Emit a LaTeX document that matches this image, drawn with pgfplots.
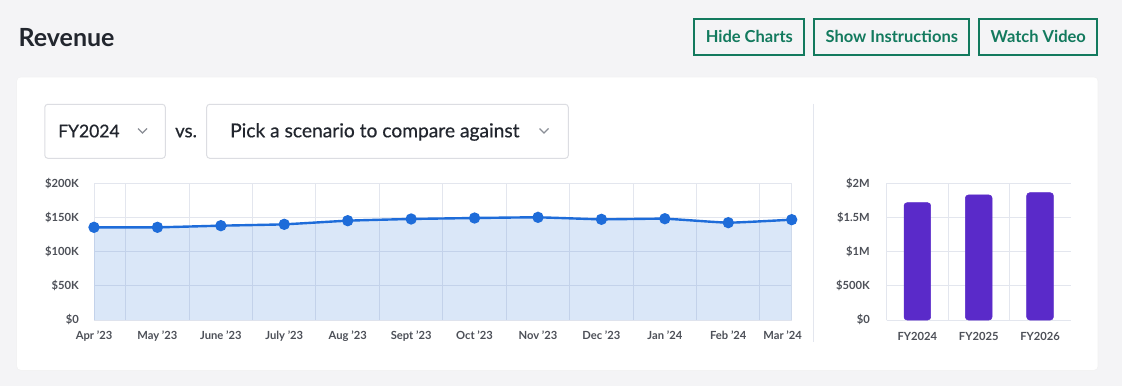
\documentclass[border=0pt]{standalone}
\usepackage{fontspec}
\setmainfont{Lato}
\newfontfamily\latomed[FakeBold=0.5]{Lato}
\usepackage{pgfplots}
\pgfplotsset{compat=1.18}
\definecolor{pagebg}{HTML}{F4F4F6}
\definecolor{btngreen}{HTML}{137A5E}
\definecolor{txtdark}{HTML}{22262E}
\definecolor{ticktxt}{HTML}{4D5058}
\definecolor{gridc}{HTML}{E3E6EE}
\definecolor{boxc}{HTML}{DCDDE2}
\definecolor{chev}{HTML}{8A8E96}
\definecolor{lineblue}{HTML}{1E6CD9}
\definecolor{barpurple}{HTML}{5A2AC9}

\begin{document}
\begin{tikzpicture}
\begin{scope}[x=1pt,y=1pt]
\useasboundingbox (0,0) rectangle (1122,386);
\fill[pagebg] (0,0) rectangle (1122,386);
% card
\fill[black!5, rounded corners=5pt] (16.3,15.2) rectangle (1098.4,309.2);
\fill[white, rounded corners=4pt] (17,16) rectangle (1097.7,308.7);
% title
\node[anchor=base west, inner sep=0pt, text=txtdark, font=\fontsize{25}{28}\selectfont\bfseries] at (18.4,339.3) {Revenue};
% buttons
\foreach \xa/\xb/\lab in {694.3/804.3/Hide Charts, 814.3/969.3/Show Instructions, 979.3/1097.3/Watch Video}{
  \draw[btngreen, line width=2pt] (\xa,331) rectangle (\xb,366.7);
  \node[anchor=base, inner sep=0pt, text=btngreen, font=\fontsize{16.5}{19}\selectfont\bfseries] at ({(\xa+\xb)/2},343) {\lab};
}
% dropdowns
\draw[boxc, line width=1pt, rounded corners=3pt] (44.8,227.7) rectangle (165.3,281.7);
\node[anchor=base west, inner sep=0pt, text=txtdark, font=\fontsize{17.5}{20}\latomed] at (58,248.7) {FY2024};
\draw[chev, line width=1.4pt] (138,257.5) -- (142.5,253) -- (147,257.5);
\node[anchor=base west, inner sep=0pt, text=txtdark, font=\fontsize{18.5}{20}\latomed] at (175,248.7) {vs.};
\draw[boxc, line width=1pt, rounded corners=3pt] (206.7,227.7) rectangle (568.3,281.7);
\node[anchor=base west, inner sep=0pt, text=txtdark, font=\fontsize{19.2}{20}\latomed] at (230,248.7) {Pick a scenario to compare against};
\draw[chev, line width=1.4pt] (539.5,257.5) -- (544,253) -- (548.5,257.5);
% separator
\draw[gridc, line width=1pt] (813.3,282) -- (813.3,43.7);
\end{scope}

% ---- monthly revenue line chart (values in $K)
\begin{axis}[
  at={(94pt,66pt)}, anchor=south west,
  scale only axis, width=697.7pt, height=136.7pt,
  xmin=0, xmax=11, ymin=0, ymax=200,
  enlargelimits=false,
  xtick={0,...,11},
  xticklabels={Apr '23,May '23,June '23,July '23,Aug '23,Sept '23,Oct '23,Nov '23,Dec '23,Jan '24,Feb '24,\kern-18pt Mar '24},
  minor xtick={0.5,1.5,...,10.5},
  xminorgrids=true, xmajorgrids=false,
  ytick={0,50,100,150,200},
  yticklabels={\$0,\$50K,\$100K,\$150K,\$200K},
  ymajorgrids=true,
  major tick length=0pt, minor tick length=0pt,
  grid style={draw=gridc, line width=1pt},
  minor grid style={draw=gridc, line width=1pt},
  axis line style={draw=gridc, line width=1pt},
  tick label style={text=ticktxt, font=\fontsize{11.2}{13}\selectfont\bfseries, inner sep=0pt},
  yticklabel style={anchor=east, xshift=-15pt},
  xticklabel style={anchor=base, yshift=-19.5pt},
  axis on top=false,
]
\addplot[draw=none, fill=lineblue, fill opacity=0.16, smooth, tension=0.25] coordinates {
  (0,135.6) (1,135.6) (2,138.0) (3,140.0) (4,145.3) (5,147.8) (6,149.2) (7,150.2) (8,147.3) (9,148.2) (10,142.4) (11,146.8)
} \closedcycle;
\addplot[lineblue, line width=2.4pt, smooth, tension=0.25, mark=*, mark size=4.4pt, mark options={solid, fill=lineblue, draw=none}] coordinates {
  (0,135.6) (1,135.6) (2,138.0) (3,140.0) (4,145.3) (5,147.8) (6,149.2) (7,150.2) (8,147.3) (9,148.2) (10,142.4) (11,146.8)
};
\end{axis}

% ---- annual revenue bar chart (values in $M)
\begin{axis}[
  at={(886.7pt,66pt)}, anchor=south west,
  scale only axis, width=184pt, height=136.7pt,
  xmin=0, xmax=3, ymin=0, ymax=2,
  enlargelimits=false,
  axis x line*=bottom, axis y line*=left,
  xtick={0.5,1.5,2.5},
  xticklabels={FY2024,FY2025,FY2026},
  minor xtick={1,2},
  xminorgrids=true,
  ytick={0,0.5,1,1.5,2},
  yticklabels={\$0,\$500K,\$1M,\$1.5M,\$2M},
  ymajorgrids=true,
  major tick length=0pt, minor tick length=0pt,
  grid style={draw=gridc, line width=1pt},
  minor grid style={draw=gridc, line width=1pt},
  axis line style={draw=gridc, line width=1pt, -},
  tick label style={text=ticktxt, font=\fontsize{11.2}{13}\selectfont\bfseries, inner sep=0pt},
  yticklabel style={anchor=east, xshift=-16.7pt},
  xticklabel style={anchor=base, yshift=-20pt},
]
\addplot[ybar, bar width=26.7pt, fill=barpurple, draw=barpurple, line width=0.5pt, rounded corners=3pt] coordinates {
  (0.5,1.716) (1.5,1.829) (2.5,1.862)
};
\end{axis}
\end{tikzpicture}
\end{document}
